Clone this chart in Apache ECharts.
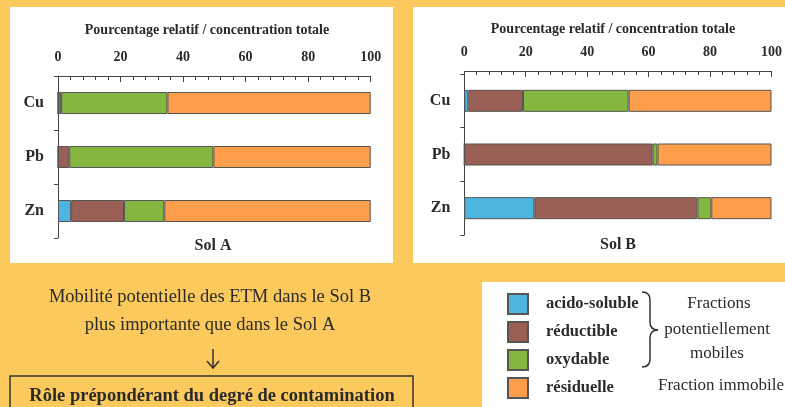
<!DOCTYPE html>
<html>
<head>
<meta charset="utf-8">
<script src="https://cdn.jsdelivr.net/npm/echarts@6/dist/echarts.min.js"></script>
<style>
  html, body { margin: 0; padding: 0; }
  #chart { width: 785px; height: 407px; }
</style>
</head>
<body>
<div id="chart"></div>
<script>
    // categories
    var elements = ['Cu', 'Pb', 'Zn'];
    var fractions = ['acido-soluble', 'réductible', 'oxydable', 'résiduelle'];
    var xTicks = [0, 20, 40, 60, 80, 100];

    // Sol A (% de la concentration totale)
    var solA_acido = [0, 0, 4.2];
    var solA_reduc = [1, 3.6, 16.9];
    var solA_oxyd = [34, 46.1, 12.9];
    var solA_resid = [65, 50.3, 66];

    // Sol B
    var solB_acido = [1.3, 0, 22.8];
    var solB_reduc = [17.8, 61.3, 53.1];
    var solB_oxyd = [34.4, 1.6, 4.5];
    var solB_resid = [46.5, 37.1, 19.6];

    var couleurs = ['#4db6e0', '#9a5f55', '#84b640', '#ff9e4a'];
    var police = 'Liberation Serif, Times New Roman, serif';
    var texte = '#2b2b2b';

    var dataA = [solA_acido, solA_reduc, solA_oxyd, solA_resid];
    var dataB = [solB_acido, solB_reduc, solB_oxyd, solB_resid];

    function makeX(idx, offset) {
        return {
            gridIndex: idx,
            type: 'value',
            position: 'top',
            min: xTicks[0],
            max: xTicks[xTicks.length - 1],
            interval: 20,
            offset: offset,
            axisLine: { show: true, lineStyle: { color: '#444', width: 1 } },
            axisTick: { show: true, inside: true, length: 6, lineStyle: { color: '#444' } },
            minorTick: { show: true, splitNumber: 5, length: 4, lineStyle: { color: '#444' } },
            splitLine: { show: false },
            axisLabel: { fontFamily: police, fontWeight: 'bold', fontSize: 14, color: texte, margin: 12 }
        };
    }

    function makeY(idx) {
        return {
            gridIndex: idx,
            type: 'category',
            inverse: true,
            data: elements,
            axisLine: { show: true, lineStyle: { color: '#444', width: 1 } },
            axisTick: { show: true, length: 4, lineStyle: { color: '#444' } },
            axisLabel: { fontFamily: police, fontWeight: 'bold', fontSize: 16, color: texte, margin: 14 }
        };
    }

    var series = [];
    [dataA, dataB].forEach(function(d, p) {
        d.forEach(function(vals, k) {
            series.push({
                type: 'bar',
                name: fractions[k],
                stack: 'sol' + p,
                xAxisIndex: p,
                yAxisIndex: p,
                barWidth: 22,
                data: vals,
                itemStyle: { color: couleurs[k], borderColor: '#555', borderWidth: 1 },
                emphasis: { disabled: true }
            });
        });
    });

    function txt(x, y, s, size, bold, align) {
        return {
            type: 'text', x: x, y: y, silent: true,
            style: {
                text: s, fill: texte, font: (bold ? 'bold ' : '') + size + 'px ' + police,
                textAlign: align || 'center', textVerticalAlign: 'middle'
            }
        };
    }

    var trait = { stroke: '#333', lineWidth: 1.5, fill: 'none' };
    function courbe(x1, y1, cx, cy, x2, y2) {
        return { type: 'bezierCurve', silent: true, shape: { x1: x1, y1: y1, cpx1: cx, cpy1: cy, x2: x2, y2: y2 }, style: trait };
    }
    function ligne(x1, y1, x2, y2) {
        return { type: 'line', silent: true, shape: { x1: x1, y1: y1, x2: x2, y2: y2 }, style: trait };
    }

    var graphics = [
        // panneaux blancs
        { type: 'rect', z: -10, silent: true, shape: { x: 10, y: 7, width: 383, height: 256 }, style: { fill: '#fff' } },
        { type: 'rect', z: -10, silent: true, shape: { x: 413, y: 7, width: 380, height: 256 }, style: { fill: '#fff' } },
        { type: 'rect', z: -10, silent: true, shape: { x: 482, y: 282, width: 310, height: 130 }, style: { fill: '#fff' } },
        // titres des graphiques
        txt(207, 30, 'Pourcentage relatif / concentration totale', 14, true),
        txt(613, 29, 'Pourcentage relatif / concentration totale', 14, true),
        txt(213, 246, 'Sol A', 16, true),
        txt(618, 245, 'Sol B', 16, true),
        // conclusion
        txt(210, 297, 'Mobilité potentielle des ETM dans le Sol B', 18.5, false),
        txt(210, 325, 'plus importante que dans le Sol A', 18.5, false),
        ligne(213, 349, 213, 368),
        { type: 'polyline', silent: true, shape: { points: [[207, 361], [213, 368], [219, 361]] }, style: trait },
        { type: 'rect', silent: true, shape: { x: 10, y: 376, width: 403, height: 40 }, style: { fill: 'none', stroke: '#333', lineWidth: 1.5 } },
        txt(212, 396, 'Rôle prépondérant du degré de contamination', 18.5, true),
        // accolade
        courbe(642, 292, 650, 292, 650, 300),
        ligne(650, 300, 650, 322),
        courbe(650, 322, 650, 330, 658, 330),
        courbe(658, 330, 650, 330, 650, 338),
        ligne(650, 338, 650, 359),
        courbe(650, 359, 650, 367, 642, 367),
        txt(719, 304, 'Fractions', 17, false),
        txt(717, 330, 'potentiellement', 17, false),
        txt(717, 354, 'mobiles', 17, false),
        txt(721, 386, 'Fraction immobile', 17, false)
    ];

    var chart = echarts.init(document.getElementById('chart'));
    chart.setOption({
        backgroundColor: '#fbc95c',
        animation: false,
        grid: [
            { left: 58, top: 76, width: 312.7, height: 162 },
            { left: 464.3, top: 74, width: 312.7, height: 161 }
        ],
        xAxis: [makeX(0, 0), makeX(1, 3)],
        yAxis: [makeY(0), makeY(1)],
        legend: {
            data: fractions,
            orient: 'vertical',
            left: 507,
            top: 293,
            padding: 0,
            itemWidth: 20,
            itemHeight: 20,
            itemGap: 6,
            selectedMode: false,
            icon: 'rect',
            textStyle: { fontFamily: police, fontWeight: 'bold', fontSize: 16.5, color: texte, padding: [0, 0, 0, 13] }
        },
        graphic: graphics,
        series: series
    });
</script>
</body>
</html>
